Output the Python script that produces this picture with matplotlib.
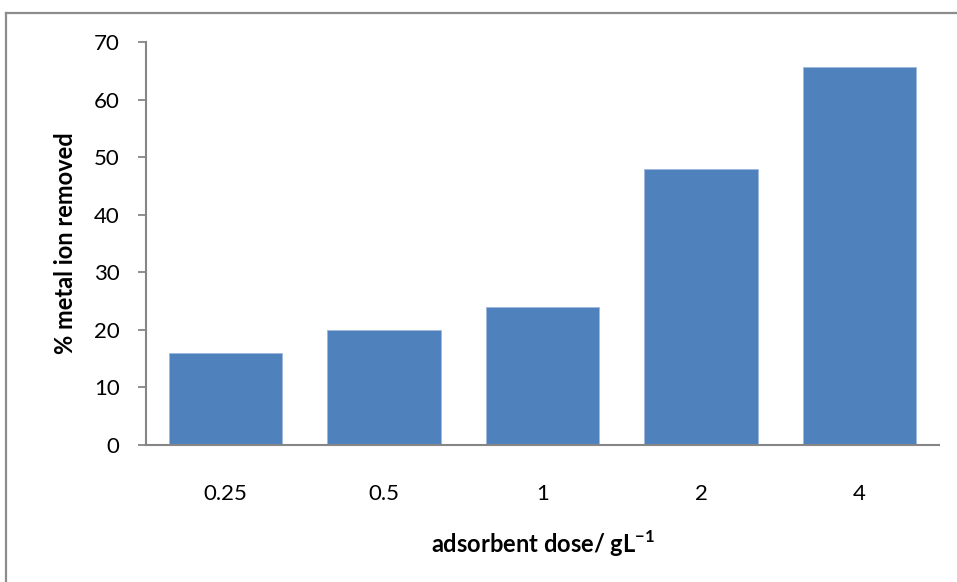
import matplotlib
matplotlib.use("Agg")
import matplotlib.pyplot as plt
from matplotlib.lines import Line2D

categories = ["0.25", "0.5", "1", "2", "4"]
values = [16, 20, 24, 48, 65.6]
yticks = [0, 10, 20, 30, 40, 50, 60, 70]

plt.rcParams['font.family'] = ['Lato', 'DejaVu Sans']
plt.rcParams['mathtext.fontset'] = 'custom'
plt.rcParams['mathtext.rm'] = 'Lato'
plt.rcParams['mathtext.bf'] = 'Lato:bold'

fig = plt.figure(figsize=(9.57, 5.82), dpi=100)
ax = fig.add_axes([146/957, 1-445/582, (939-146)/957, (445-42)/582])

x = list(range(len(categories)))
ax.bar(x, values, width=0.715, color='#4F81BD', edgecolor='#9DB9DC', linewidth=0.6, zorder=2)

ax.set_xlim(-0.5, len(categories)-0.5)
ax.set_ylim(0, 70)
ax.set_yticks(yticks)
ax.set_yticklabels([str(t) for t in yticks], fontsize=16)
ax.set_xticks(x)
ax.set_xticklabels(categories, fontsize=16)
ax.tick_params(axis='x', length=0, pad=28)
ax.tick_params(axis='y', length=6, width=1.3, color='#868686', pad=13, direction='out')

for s in ['top', 'right']:
    ax.spines[s].set_visible(False)
for s in ['left', 'bottom']:
    ax.spines[s].set_color('#868686')
    ax.spines[s].set_linewidth(1.5)

ax.set_ylabel('% metal ion removed', fontsize=17, fontweight='bold', labelpad=12)
ax.set_xlabel(r'adsorbent dose/ gL$^{\mathbf{-1}}$', fontsize=17, fontweight='bold', labelpad=18)

# figure border (left and top visible)
fig.add_artist(Line2D([6/957, 6/957], [0, 1-13/582], transform=fig.transFigure, color='#8C8C8C', linewidth=1.6))
fig.add_artist(Line2D([6/957, 1], [1-13/582, 1-13/582], transform=fig.transFigure, color='#8C8C8C', linewidth=1.6))

fig.savefig('out.png', dpi=100)
